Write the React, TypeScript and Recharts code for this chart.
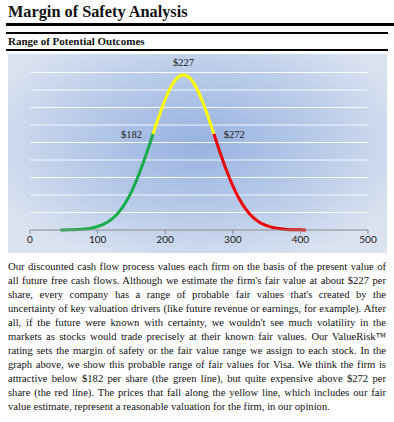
import React from 'react';
import { LineChart, Line, XAxis, YAxis, ReferenceLine, ReferenceDot } from 'recharts';

// price points along the x axis and the relative likelihood
const PRICES = [45, 50, 60, 70, 80, 90, 100, 110, 120, 130, 140, 150, 160, 170, 182, 190, 200, 210, 220, 227, 235, 245, 255, 265, 272, 280, 290, 300, 310, 320, 330, 340, 350, 360, 370, 380, 390, 400, 408];
const DENSITY = [0.003, 0.005, 0.012, 0.026, 0.054, 0.105, 0.2, 0.35, 0.59, 0.96, 1.48, 2.18, 3.07, 4.11, 5.49, 6.41, 7.46, 8.28, 8.76, 8.86, 8.73, 8.2, 7.36, 6.3, 5.49, 4.56, 3.47, 2.52, 1.74, 1.15, 0.72, 0.43, 0.25, 0.136, 0.07, 0.035, 0.017, 0.008, 0.003];
const LOW = 182;
const FAIR = 227;
const HIGH = 272;
const X_TICKS = [0, 100, 200, 300, 400, 500];
const GRID_Y = [1, 2, 3, 4, 5, 6, 7, 8, 9];

const TEXT_LINES = [
    'Our discounted cash flow process values each firm on the basis of the present value of',
    "all future free cash flows. Although we estimate the firm's fair value at about $227 per",
    "share, every company has a range of probable fair values that's created by the",
    'uncertainty of key valuation drivers (like future revenue or earnings, for example). After',
    "all, if the future were known with certainty, we wouldn't see much volatility in the",
    'markets as stocks would trade precisely at their known fair values. Our ValueRisk\u2122',
    'rating sets the margin of safety or the fair value range we assign to each stock. In the',
    'graph above, we show this probable range of fair values for Visa. We think the firm is',
    'attractive below $182 per share (the green line), but quite expensive above $272 per',
    'share (the red line). The prices that fall along the yellow line, which includes our fair',
    'value estimate, represent a reasonable valuation for the firm, in our opinion.',
];

const rows = PRICES.map((x, i) => ({
    x,
    green: x <= LOW ? DENSITY[i] : null,
    yellow: x >= LOW && x <= HIGH ? DENSITY[i] : null,
    red: x >= HIGH ? DENSITY[i] : null,
}));
const at = (x: number) => DENSITY[PRICES.indexOf(x)];

const SERIF = '"Liberation Serif", "DejaVu Serif", serif';
const labelStyle = { fontFamily: SERIF, fontSize: 10.5, fill: '#1a1a1a' };

export default function App() {
    return (
        <div style={{ position: 'absolute', left: 0, top: 0, width: 394, height: 422, background: '#fff', fontFamily: SERIF, color: '#111' }}>
            <div style={{ position: 'absolute', left: 8, top: 2, fontSize: 16.3, fontWeight: 700 }}>Margin of Safety Analysis</div>
            <div style={{ position: 'absolute', left: 6, top: 23, width: 388, height: 3, background: '#000' }} />
            <div style={{ position: 'absolute', left: 6, top: 32, width: 382, height: 1.5, background: '#000' }} />
            <div style={{ position: 'absolute', left: 8, top: 35, fontSize: 11, fontWeight: 700 }}>Range of Potential Outcomes</div>
            <div style={{ position: 'absolute', left: 6, top: 49, width: 382, height: 1.5, background: '#000' }} />

            <div style={{
                position: 'absolute', left: 8, top: 54, width: 379, height: 199,
                background: 'radial-gradient(ellipse 60% 65% at 50% 45%, #97b2e0 0%, #b9cbe9 55%, #dbe3f0 100%)',
            }}>
                <LineChart width={379} height={199} data={rows} margin={{ top: 1, right: 19, left: 22, bottom: 3 }}>
                    {GRID_Y.map((y) => (
                        <ReferenceLine key={y} y={y} stroke="#ffffff" strokeOpacity={0.85} strokeWidth={1} />
                    ))}
                    <XAxis type="number" dataKey="x" domain={[0, 500]} ticks={X_TICKS} height={20}
                        axisLine={{ stroke: '#8a8a8a' }} tickLine={{ stroke: '#8a8a8a' }} tickSize={4}
                        tick={{ fill: '#1a1a1a', fontSize: 10, fontFamily: 'Lato, "Open Sans", sans-serif' }} />
                    <YAxis type="number" domain={[0, 10]} width={0} tick={false} tickLine={false}
                        axisLine={{ stroke: '#8a8a8a' }} />
                    <Line dataKey="green" type="monotone" stroke="#18ad4a" strokeWidth={3} dot={false} isAnimationActive={false} connectNulls={false} />
                    <Line dataKey="yellow" type="monotone" stroke="#ffff00" strokeWidth={3} dot={false} isAnimationActive={false} connectNulls={false} />
                    <Line dataKey="red" type="monotone" stroke="#ee0000" strokeWidth={3} dot={false} isAnimationActive={false} connectNulls={false} />
                    <ReferenceDot x={FAIR} y={at(FAIR)} r={0} label={{ value: '$227', position: 'top', offset: 9, ...labelStyle }} />
                    <ReferenceDot x={LOW} y={at(LOW)} r={0} label={{ value: '$182', position: 'left', offset: 11, ...labelStyle }} />
                    <ReferenceDot x={HIGH} y={at(HIGH)} r={0} label={{ value: '$272', position: 'right', offset: 10, ...labelStyle }} />
                </LineChart>
            </div>

            <div style={{ position: 'absolute', left: 8, top: 260, width: 378, fontSize: 10.6, lineHeight: '14px' }}>
                {TEXT_LINES.map((t, i) => (
                    <div key={i} style={{ textAlign: 'justify', textAlignLast: i === TEXT_LINES.length - 1 ? 'left' : 'justify', whiteSpace: 'nowrap' }}>{t}</div>
                ))}
            </div>
        </div>
    );
}
